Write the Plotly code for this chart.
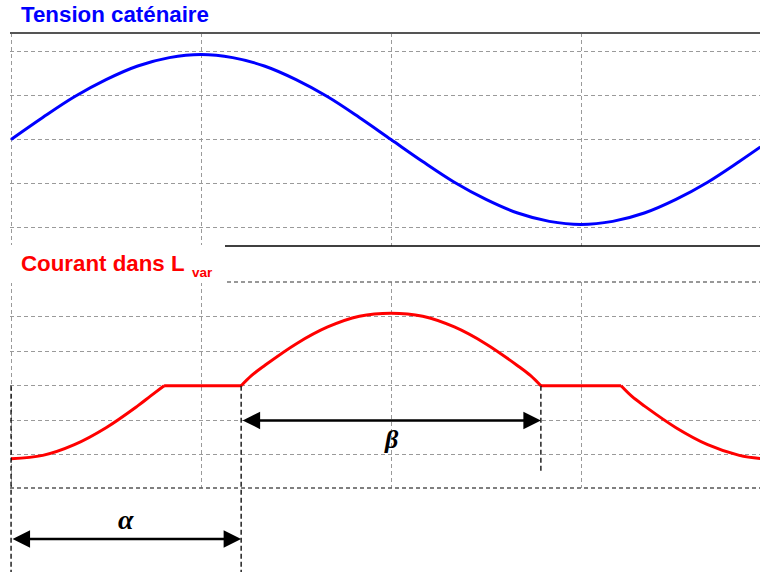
import plotly.graph_objects as go

# ---------------- data ----------------
# phase angle in degrees (one period = 360 deg)
angles_v = [0, 15, 30, 45, 60, 75, 90, 105, 120, 135, 150, 165, 180,
            195, 210, 225, 240, 255, 270, 285, 300, 315, 330, 345, 355]
tension = [0.00, 0.50, 0.97, 1.36, 1.67, 1.86, 1.93, 1.86, 1.67, 1.36, 0.97, 0.50, 0.00,
           -0.50, -0.97, -1.36, -1.67, -1.86, -1.93, -1.86, -1.67, -1.36, -0.97, -0.50, -0.17]

# current, drawn as consecutive pieces (rise, plateau, arch, plateau, fall)
angles_i = [[0, 15, 30, 45, 60, 66, 72.5],
            [72.5, 109],
            [109, 114, 120, 135, 150, 165, 180, 195, 210, 225, 240, 246, 251],
            [251, 289],
            [289, 294, 300, 315, 330, 345, 355]]
courant = [[0.89, 0.99, 1.30, 1.79, 2.42, 2.70, 3.00],
           [3.00, 3.00],
           [3.00, 3.30, 3.58, 4.21, 4.70, 5.01, 5.10, 5.01, 4.70, 4.21, 3.58, 3.30, 3.00],
           [3.00, 3.00],
           [3.00, 2.70, 2.42, 1.79, 1.30, 0.99, 0.90]]

alpha_deg = 109      # firing angle (end of alpha)
beta_end = 251       # end of conduction (end of beta)
plateau = 3.0        # level of the flat parts of the current
grid_x = [0, 90, 180, 270]
grid_y_top = [-2, -1, 0, 1, 2]
grid_y_bot = [1, 2, 3, 4, 5]

# ---------------- layout constants ----------------
W, H = 760, 572
X_RANGE = [-0.5, 354.8]
Y1_RANGE = [-2.42, 2.42]
Y2_RANGE = [0.046, 6.0]
X_DOM = [10 / W, 1.0]
Y1_DOM = [1 - 246 / H, 1 - 33 / H]
Y2_DOM = [1 - 488 / H, 1 - 282 / H]

GRID = "#9a9a9a"
DASH = "4px,3px"
PX_PER_DEG = W * (X_DOM[1] - X_DOM[0]) / (X_RANGE[1] - X_RANGE[0])


def y2_paper(v):
    return Y2_DOM[0] + (v - Y2_RANGE[0]) / (Y2_RANGE[1] - Y2_RANGE[0]) * (Y2_DOM[1] - Y2_DOM[0])


# join the current pieces with gaps so each piece is smoothed on its own
xi, yi = [], []
for k, (xs, ys) in enumerate(zip(angles_i, courant)):
    if k:
        xi.append(None)
        yi.append(None)
    xi.extend(xs)
    yi.extend(ys)

fig = go.Figure()
fig.add_trace(go.Scatter(x=angles_v, y=tension, mode="lines",
                         line=dict(color="#0000FF", width=3, shape="spline"),
                         xaxis="x", yaxis="y", hoverinfo="skip"))
fig.add_trace(go.Scatter(x=xi, y=yi, mode="lines", connectgaps=False,
                         line=dict(color="#FF0000", width=3, shape="spline"),
                         xaxis="x2", yaxis="y2", hoverinfo="skip"))

ax_common = dict(range=X_RANGE, domain=X_DOM, tickvals=grid_x, showticklabels=False,
                 showgrid=True, gridcolor=GRID, griddash=DASH, gridwidth=1,
                 zeroline=False, showline=False, ticks="", fixedrange=True)

fig.update_layout(
    width=W, height=H, autosize=False,
    margin=dict(l=0, r=0, t=0, b=0),
    paper_bgcolor="white", plot_bgcolor="white",
    showlegend=False,
    xaxis=dict(anchor="y", **ax_common),
    xaxis2=dict(anchor="y2", **ax_common),
    yaxis=dict(anchor="x", range=Y1_RANGE, domain=Y1_DOM, tickvals=grid_y_top,
               showticklabels=False, showgrid=True, gridcolor=GRID, griddash=DASH,
               zeroline=False, showline=False, ticks="", fixedrange=True),
    yaxis2=dict(anchor="x2", range=Y2_RANGE, domain=Y2_DOM, tickvals=grid_y_bot,
                showticklabels=False, showgrid=True, gridcolor=GRID, griddash=DASH,
                zeroline=False, showline=False, ticks="", fixedrange=True),
)

MARK = dict(color="black", width=1.3, dash="5px,3px")
shapes = [
    # top panel borders
    dict(type="line", xref="x domain", yref="y domain", x0=0, x1=1, y0=1, y1=1,
         line=dict(color="#555555", width=2)),
    dict(type="line", xref="x domain", yref="y domain", x0=0, x1=1, y0=0, y1=0,
         line=dict(color="#000000", width=1.5)),
    # bottom panel borders
    dict(type="line", xref="x2 domain", yref="y2 domain", x0=0, x1=1, y0=1, y1=1,
         line=dict(color="#777777", width=1.5, dash=DASH)),
    dict(type="line", xref="x2 domain", yref="y2 domain", x0=0, x1=1, y0=0, y1=0,
         line=dict(color="#555555", width=1.5, dash=DASH)),
    # black dashed markers of alpha / beta
    dict(type="line", xref="x2", yref="paper", x0=0, x1=0,
         y0=y2_paper(plateau), y1=0, line=MARK),
    dict(type="line", xref="x2", yref="paper", x0=alpha_deg, x1=alpha_deg,
         y0=y2_paper(plateau), y1=0, line=MARK),
    dict(type="line", xref="x2", yref="paper", x0=beta_end, x1=beta_end,
         y0=y2_paper(plateau), y1=y2_paper(0.51), line=MARK),
    # white box behind the second label
    dict(type="rect", xref="paper", yref="paper", x0=-0.01, x1=225 / W,
         y0=1 - 283 / H, y1=1 - 245 / H, fillcolor="white", line=dict(width=0)),
]
fig.update_layout(shapes=shapes)

SANS = "Liberation Sans, Arial, sans-serif"
SERIF = "Liberation Serif, Times New Roman, serif"
arrow_style = dict(showarrow=True, arrowside="end+start", arrowhead=2, startarrowhead=2,
                   arrowwidth=2.5, arrowsize=1.4, startarrowsize=1.4, arrowcolor="black",
                   standoff=0, startstandoff=0, text="")
annotations = [
    dict(text="<b>Tension caténaire</b>", xref="paper", yref="paper",
         x=19 / W, y=1 - 14.5 / H, xanchor="left", yanchor="middle", showarrow=False,
         font=dict(family=SANS, size=22.3, color="#0000FF")),
    dict(text="<b>Courant dans L</b>", xref="paper", yref="paper",
         x=19 / W, y=1 - 263.5 / H, xanchor="left", yanchor="middle", showarrow=False,
         font=dict(family=SANS, size=22.3, color="#FF0000")),
    dict(text="<b>var</b>", xref="paper", yref="paper",
         x=190 / W, y=1 - 272.5 / H, xanchor="left", yanchor="middle", showarrow=False,
         font=dict(family=SANS, size=13.5, color="#FF0000")),
    # beta arrow
    dict(xref="x2", yref="y2", x=beta_end, y=2, axref="x2", ayref="y2",
         ax=alpha_deg, ay=2, **arrow_style),
    dict(text="<b><i>β</i></b>", xref="x2", yref="paper", x=(alpha_deg + beta_end) / 2,
         y=1 - 439 / H, showarrow=False, xanchor="center", yanchor="middle",
         font=dict(family=SERIF, size=26, color="black")),
    # alpha arrow (below the panel: vertical position in paper units)
    dict(xref="x2", yref="paper", x=alpha_deg, y=1 - 539 / H, axref="pixel", ayref="pixel",
         ax=-alpha_deg * PX_PER_DEG, ay=0, **arrow_style),
    dict(text="<b><i>α</i></b>", xref="x2", yref="paper", x=alpha_deg / 2,
         y=1 - 519 / H, showarrow=False, xanchor="center", yanchor="middle",
         font=dict(family=SERIF, size=28, color="black")),
]
fig.update_layout(annotations=annotations)

fig.write_html("out.html", config={"displayModeBar": False, "staticPlot": True},
               post_script="document.body.style.margin='0';document.body.style.overflow='hidden';")
